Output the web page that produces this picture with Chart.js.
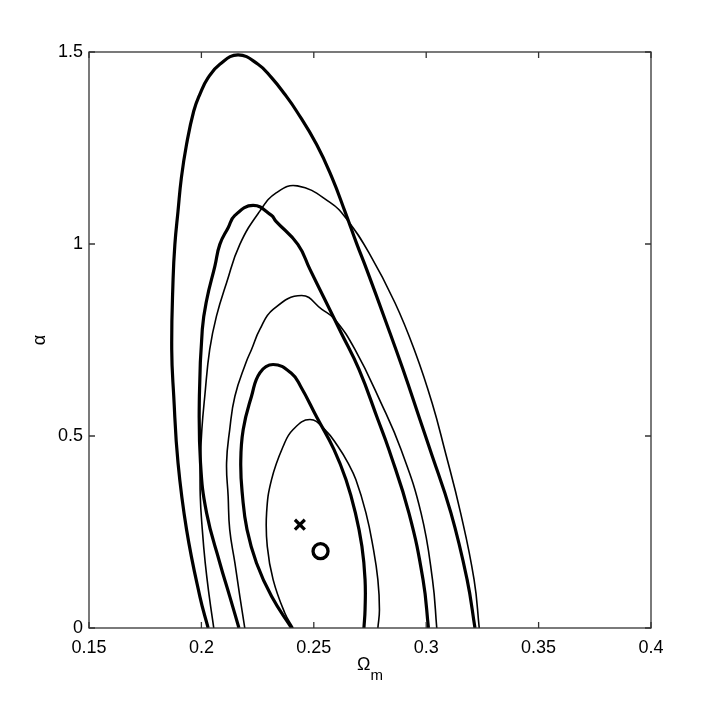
<!DOCTYPE html>
<html><head><meta charset="utf-8">
<script src="https://cdn.jsdelivr.net/npm/chart.js@4/dist/chart.umd.min.js"></script>
<style>html,body{margin:0;padding:0;background:#fff;}</style>
</head><body>
<canvas id="c" width="707" height="707"></canvas>
<script>
// ---- data ----
const xTickValues = [0.15, 0.2, 0.25, 0.3, 0.35, 0.4];
const xTickLabels = ['0.15', '0.2', '0.25', '0.3', '0.35', '0.4'];
const yTickValues = [0, 0.5, 1, 1.5];
const yTickLabels = ['0', '0.5', '1', '1.5'];
const xTitleMain = 'Ω';
const xTitleSub = 'm';
const yTitle = 'α';

// thick contours (Omega_m, alpha), traced from the lower-left end over the top to the lower-right end
const thickInner = [[0.2401,0],[0.2312,0.0824],[0.2245,0.1694],[0.2203,0.2562],[0.2183,0.3430],[0.2175,0.4300],[0.2186,0.5168],[0.2223,0.6036],[0.2260,0.6646],[0.2319,0.6862],[0.2398,0.6646],[0.2441,0.6297],[0.2514,0.5481],[0.2590,0.4647],[0.2643,0.3865],[0.2685,0.2997],[0.2714,0.2127],[0.2728,0.1259],[0.2728,0.0477],[0.2723,0]];
const thickMiddle = [[0.2167,0],[0.2126,0.0824],[0.2082,0.1694],[0.2023,0.2997],[0.1996,0.4300],[0.1991,0.6036],[0.2004,0.7774],[0.2024,0.8556],[0.2060,0.9424],[0.2082,0.9990],[0.2119,1.0425],[0.2149,1.0745],[0.2230,1.1006],[0.2312,1.0745],[0.2331,1.0597],[0.2429,0.9990],[0.2483,0.9338],[0.2549,0.8556],[0.2621,0.7696],[0.2701,0.6732],[0.2785,0.5429],[0.2834,0.4647],[0.2923,0.2997],[0.2986,0.1259],[0.3010,0]];
const thickOuter = [[0.2030,0],[0.1993,0.0824],[0.1934,0.2562],[0.1896,0.4300],[0.1877,0.6036],[0.1868,0.7253],[0.1874,0.9077],[0.1882,0.9990],[0.1896,1.0857],[0.1911,1.1728],[0.1934,1.2596],[0.1966,1.3464],[0.1993,1.3899],[0.2030,1.4334],[0.2082,1.4681],[0.2163,1.4923],[0.2252,1.4681],[0.2312,1.4334],[0.2371,1.3899],[0.2423,1.3464],[0.2512,1.2596],[0.2581,1.1728],[0.2638,1.0857],[0.2692,0.9990],[0.2735,0.9338],[0.2817,0.8035],[0.2897,0.6732],[0.2972,0.5429],[0.3017,0.4647],[0.3110,0.2997],[0.3182,0.1259],[0.3217,0]];

// thin contours
const thinInner = [[0.2408,0],[0.2371,0.0391],[0.2319,0.1259],[0.2293,0.2127],[0.2290,0.2997],[0.2312,0.3865],[0.2364,0.4733],[0.2408,0.5168],[0.2483,0.5429],[0.2549,0.5168],[0.2607,0.4733],[0.2652,0.4300],[0.2687,0.3865],[0.2732,0.2997],[0.2763,0.2127],[0.2785,0.1259],[0.2792,0.0477],[0.2785,0]];
const thinMiddle = [[0.2193,0],[0.2171,0.0824],[0.2149,0.1694],[0.2126,0.2562],[0.2119,0.3430],[0.2112,0.4300],[0.2126,0.5168],[0.2149,0.6036],[0.2198,0.6906],[0.2223,0.7253],[0.2260,0.7774],[0.2319,0.8296],[0.2446,0.8660],[0.2536,0.8296],[0.2594,0.8035],[0.2683,0.7253],[0.2799,0.5864],[0.2888,0.4647],[0.2977,0.2997],[0.3028,0.1259],[0.3047,0]];
const thinOuter = [[0.2055,0],[0.2035,0.0824],[0.2017,0.1694],[0.2004,0.2562],[0.1995,0.3430],[0.1995,0.4300],[0.2002,0.5168],[0.2015,0.6036],[0.2037,0.7253],[0.2067,0.8121],[0.2112,0.8991],[0.2171,0.9990],[0.2260,1.0857],[0.2334,1.1337],[0.2427,1.1514],[0.2572,1.1084],[0.2647,1.0641],[0.2745,0.9773],[0.2861,0.8470],[0.2952,0.7167],[0.3026,0.5864],[0.3082,0.4647],[0.3153,0.2997],[0.3213,0.1259],[0.3236,0]];

// best-fit markers
const crossPoint = [[0.2438, 0.269]];
const circlePoint = [[0.2530, 0.200]];

// ---- chart ----
const toXY = arr => arr.map(([x, y]) => ({x, y}));
const FONT = "'Liberation Sans', Arial, Helvetica, sans-serif";
Chart.defaults.font.family = FONT;
Chart.defaults.color = '#000';

function curve(pts, w) {
  return {data: toXY(pts), showLine: true, fill: false, borderColor: '#000', borderWidth: w,
          pointRadius: 0, pointHoverRadius: 0, tension: 0.45, cubicInterpolationMode: 'default',
          borderCapStyle: 'butt', borderJoinStyle: 'round'};
}

const boxPlugin = {
  id: 'matlabBox',
  afterDraw(chart) {
    const {ctx, chartArea: a, scales: {x, y}} = chart;
    ctx.save();
    ctx.strokeStyle = '#333';
    ctx.lineWidth = 1.3;
    ctx.strokeRect(a.left, a.top, a.right - a.left, a.bottom - a.top);
    const L = 6;
    ctx.beginPath();
    x.ticks.forEach(t => {
      const px = x.getPixelForValue(t.value);
      ctx.moveTo(px, a.bottom); ctx.lineTo(px, a.bottom - L);
      ctx.moveTo(px, a.top); ctx.lineTo(px, a.top + L);
    });
    y.ticks.forEach(t => {
      const py = y.getPixelForValue(t.value);
      ctx.moveTo(a.left, py); ctx.lineTo(a.left + L, py);
      ctx.moveTo(a.right, py); ctx.lineTo(a.right - L, py);
    });
    ctx.stroke();
    // x axis title: Omega with subscript m
    const cx = (a.left + a.right) / 2;
    ctx.fillStyle = '#000';
    ctx.textBaseline = 'alphabetic';
    ctx.textAlign = 'left';
    ctx.font = '18px ' + FONT;
    const w1 = ctx.measureText(xTitleMain).width;
    ctx.font = '15px ' + FONT;
    const w2 = ctx.measureText(xTitleSub).width;
    const sx = cx - (w1 + w2) / 2;
    ctx.font = '18px ' + FONT;
    ctx.fillText(xTitleMain, sx, 670);
    ctx.font = '15px ' + FONT;
    ctx.fillText(xTitleSub, sx + w1, 680);
    ctx.restore();
  }
};

new Chart(document.getElementById('c'), {
  type: 'line',
  data: {
    datasets: [
      curve(thickOuter, 3.2), curve(thickMiddle, 3.2), curve(thickInner, 3.2),
      curve(thinOuter, 1.6), curve(thinMiddle, 1.6), curve(thinInner, 1.6),
      {data: toXY(crossPoint), pointStyle: 'crossRot', pointRadius: 7, pointBorderWidth: 3.2,
       borderColor: '#000', backgroundColor: '#000', pointBorderColor: '#000', showLine: false, pointHoverRadius: 7},
      {data: toXY(circlePoint), pointStyle: 'circle', pointRadius: 7.5, pointBorderWidth: 3.3,
       borderColor: '#000', pointBorderColor: '#000', pointBackgroundColor: 'rgba(255,255,255,0)',
       backgroundColor: 'rgba(255,255,255,0)', showLine: false, pointHoverRadius: 7.5}
    ]
  },
  options: {
    responsive: false, animation: false, devicePixelRatio: 1,
    layout: {padding: {left: 0, right: 56, top: 52, bottom: 0}},
    plugins: {legend: {display: false}, tooltip: {enabled: false}},
    events: [],
    scales: {
      x: {
        type: 'linear', min: 0.15, max: 0.4,
        afterBuildTicks: s => { s.ticks = xTickValues.map(v => ({value: v})); },
        afterFit: s => { s.height = 79; },
        grid: {display: false, drawTicks: false}, border: {display: false},
        ticks: {padding: 9, font: {size: 18}, color: '#000', maxRotation: 0, autoSkip: false,
                callback: (v, i) => xTickLabels[i]},
        title: {display: false}
      },
      y: {
        type: 'linear', min: 0, max: 1.5,
        afterBuildTicks: s => { s.ticks = yTickValues.map(v => ({value: v})); },
        afterFit: s => { s.width = 89; },
        grid: {display: false, drawTicks: false}, border: {display: false},
        ticks: {padding: 6, font: {size: 18}, color: '#000', autoSkip: false,
                callback: (v, i) => yTickLabels[i]},
        title: {display: true, text: yTitle, font: {size: 18}, color: '#000', padding: {top: 29, bottom: 0}}
      }
    }
  },
  plugins: [boxPlugin]
});
</script>
</body></html>
